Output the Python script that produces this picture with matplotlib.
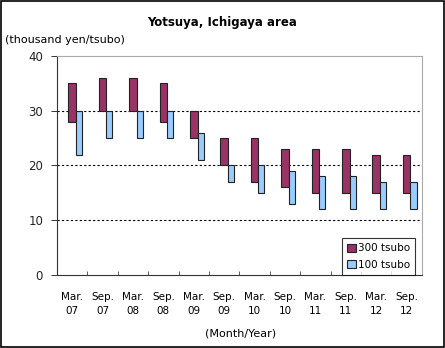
import matplotlib
matplotlib.use('Agg')
import matplotlib.pyplot as plt
from matplotlib.patches import Rectangle
import numpy as np

labels = ['Mar.\n07', 'Sep.\n07', 'Mar.\n08', 'Sep.\n08', 'Mar.\n09', 'Sep.\n09',
          'Mar.\n10', 'Sep.\n10', 'Mar.\n11', 'Sep.\n11', 'Mar.\n12', 'Sep.\n12']
low_300 = [28, 30, 30, 28, 25, 20, 17, 16, 15, 15, 15, 15]
high_300 = [35, 36, 36, 35, 30, 25, 25, 23, 23, 23, 22, 22]
low_100 = [22, 25, 25, 25, 21, 17, 15, 13, 12, 12, 12, 12]
high_100 = [30, 30, 30, 30, 26, 20, 20, 19, 18, 18, 17, 17]

plt.rcParams['font.family'] = ['DejaVu Sans']

fig = plt.figure(figsize=(4.45, 3.48), dpi=100)
ax = fig.add_axes([0.128, 0.210, 0.820, 0.629])

x = np.arange(len(labels))
w3 = 0.25
w1 = 0.2
h3 = np.array(high_300) - np.array(low_300)
h1 = np.array(high_100) - np.array(low_100)
ax.bar(x, h3, width=w3, bottom=low_300, color='#993366', edgecolor='#222222',
       linewidth=0.8, label='300 tsubo', zorder=3)
ax.bar(x + w3 / 2 + w1 / 2, h1, width=w1, bottom=low_100, color='#99CCFF',
       edgecolor='#222222', linewidth=0.8, label='100 tsubo', zorder=3)

ax.set_xlim(-0.5, len(labels) - 0.5)
ax.set_ylim(0, 40)
ax.set_yticks([0, 10, 20, 30, 40])
for yv in [10, 20, 30]:
    ax.axhline(yv, color='black', linestyle=(0, (2, 2)), linewidth=0.8, zorder=1)

ax.set_xticks(x)
ax.set_xticklabels(labels, fontsize=7.5, linespacing=1.5)
ax.set_xticks(np.arange(0.5, len(labels) - 0.5, 1), minor=True)
ax.tick_params(axis='x', which='major', length=0, pad=12)
ax.tick_params(axis='x', which='minor', direction='in', length=3, color='#444444')
ax.tick_params(axis='y', labelsize=8.5, length=4, width=0.7, color='#333333',
               pad=6, labelcolor='#222222')

for s in ['left', 'bottom']:
    ax.spines[s].set_color('#333333')
for s in ['top', 'right']:
    ax.spines[s].set_color('#aaaaaa')

leg = ax.legend(loc='lower right', fontsize=7.5, frameon=True, fancybox=False,
                edgecolor='black', handlelength=0.8, handleheight=0.8,
                handletextpad=0.2, borderaxespad=0.0, labelspacing=0.6,
                borderpad=0.5, bbox_to_anchor=(0.981, 0.0))
leg.get_frame().set_linewidth(0.8)

fig.text(0.5, 0.935, 'Yotsuya, Ichigaya area', ha='center', va='center',
         fontsize=8.5, fontweight='bold')
fig.text(0.012, 0.885, '(thousand yen/tsubo)', ha='left', va='center', fontsize=8)
fig.text(0.54, 0.043, '(Month/Year)', ha='center', va='center', fontsize=8)

fig.patches.append(Rectangle((0.002, 0.002), 0.996, 0.994, transform=fig.transFigure,
                             fill=False, edgecolor='black', linewidth=1.2))

fig.savefig('out.png', dpi=100)
